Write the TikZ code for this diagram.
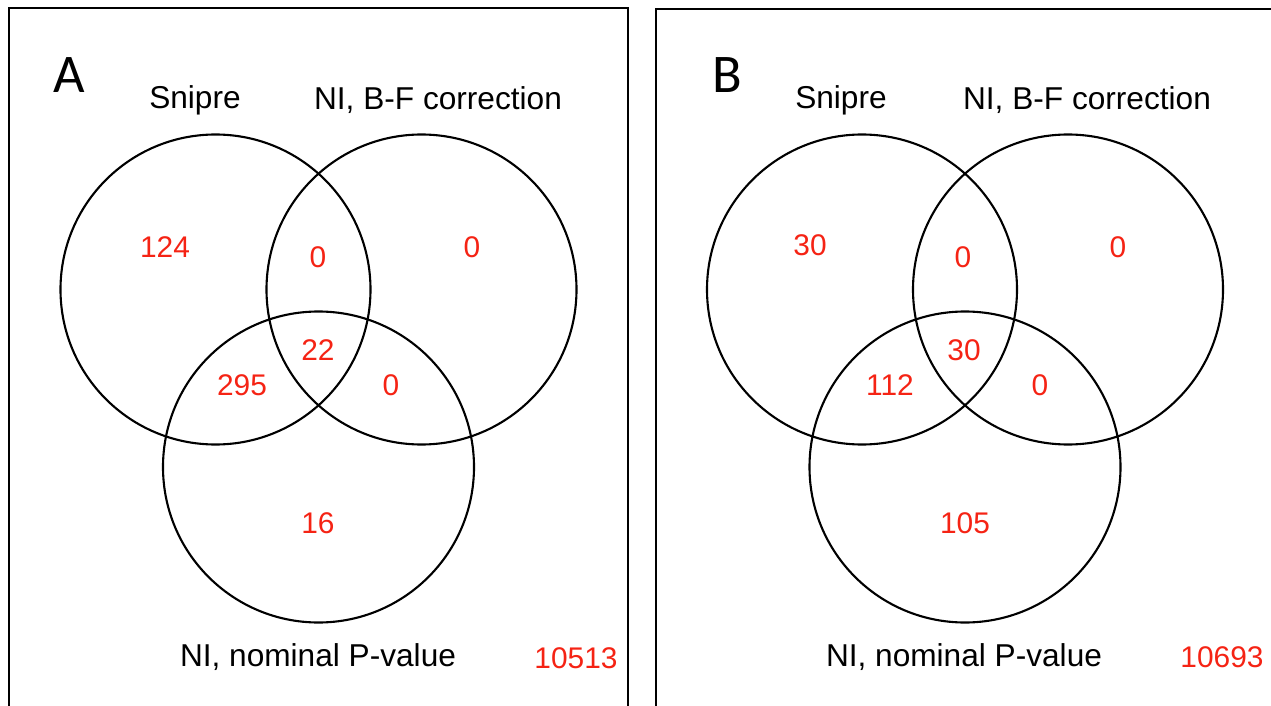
\documentclass[tikz,border=0pt]{standalone}
\usepackage{fontspec}
\setmainfont{Liberation Sans}
\newfontfamily\panelfont{Carlito}
\definecolor{countred}{RGB}{245,35,20}
\begin{document}
\begin{tikzpicture}[x=0.02cm,y=-0.02cm,
  setlabel/.style={font=\fontsize{18}{20}\selectfont, text=black},
  count/.style={font=\fontsize{17}{19}\selectfont, text=countred},
  total/.style={font=\fontsize{17}{19}\selectfont, text=countred},
  paneltag/.style={font=\panelfont\fontsize{31}{33}\selectfont},
  ring/.style={draw=black, line width=1.2pt},
  frame/.style={draw=black, line width=1.4pt}]
\useasboundingbox (0,0) rectangle (1271,706);
\begin{scope}
\clip (0,0) rectangle (1271,706);
% panel frames
\draw[frame] (9,8) rectangle (628,730);
\draw[frame] (656,9) rectangle (1300,730);

% ---- panel A ----
\coordinate (a1) at (215.5,289.5);
\coordinate (a2) at (421.5,289.5);
\coordinate (a3) at (318.5,467);
\draw[ring] (a1) circle[radius=155];
\draw[ring] (a2) circle[radius=155];
\draw[ring] (a3) circle[radius=155.5];
\node[paneltag] (tagA) at (69,75) {A};
\node[setlabel] (snipA) at (195,100) {Snipre};
\node[setlabel] (bfA) at (438,100) {NI, B-F correction};
\node[setlabel] (nomA) at (318,657) {NI, nominal P-value};
\node[count] (a100) at (165,247) {124};
\node[count] (a110) at (318,257) {0};
\node[count] (a010) at (472,247) {0};
\node[count] (a101) at (242,385) {295};
\node[count] (a111) at (318,350) {22};
\node[count] (a011) at (391,385) {0};
\node[count] (a001) at (318,523) {16};
\node[total] (aout) at (576,658) {10513};

% ---- panel B ----
\coordinate (b1) at (862,289.5);
\coordinate (b2) at (1068,289.5);
\coordinate (b3) at (965,467);
\draw[ring] (b1) circle[radius=155];
\draw[ring] (b2) circle[radius=155];
\draw[ring] (b3) circle[radius=155.5];
\node[paneltag] (tagB) at (727,75) {B};
\node[setlabel] (snipB) at (841,100) {Snipre};
\node[setlabel] (bfB) at (1087,100) {NI, B-F correction};
\node[setlabel] (nomB) at (964,657) {NI, nominal P-value};
\node[count] (b100) at (810,245) {30};
\node[count] (b110) at (963,257) {0};
\node[count] (b010) at (1118,247) {0};
\node[count] (b101) at (890,385) {112};
\node[count] (b111) at (964,350) {30};
\node[count] (b011) at (1040,385) {0};
\node[count] (b001) at (965,523) {105};
\node[total] (bout) at (1222,657) {10693};
\end{scope}
\end{tikzpicture}
\end{document}
